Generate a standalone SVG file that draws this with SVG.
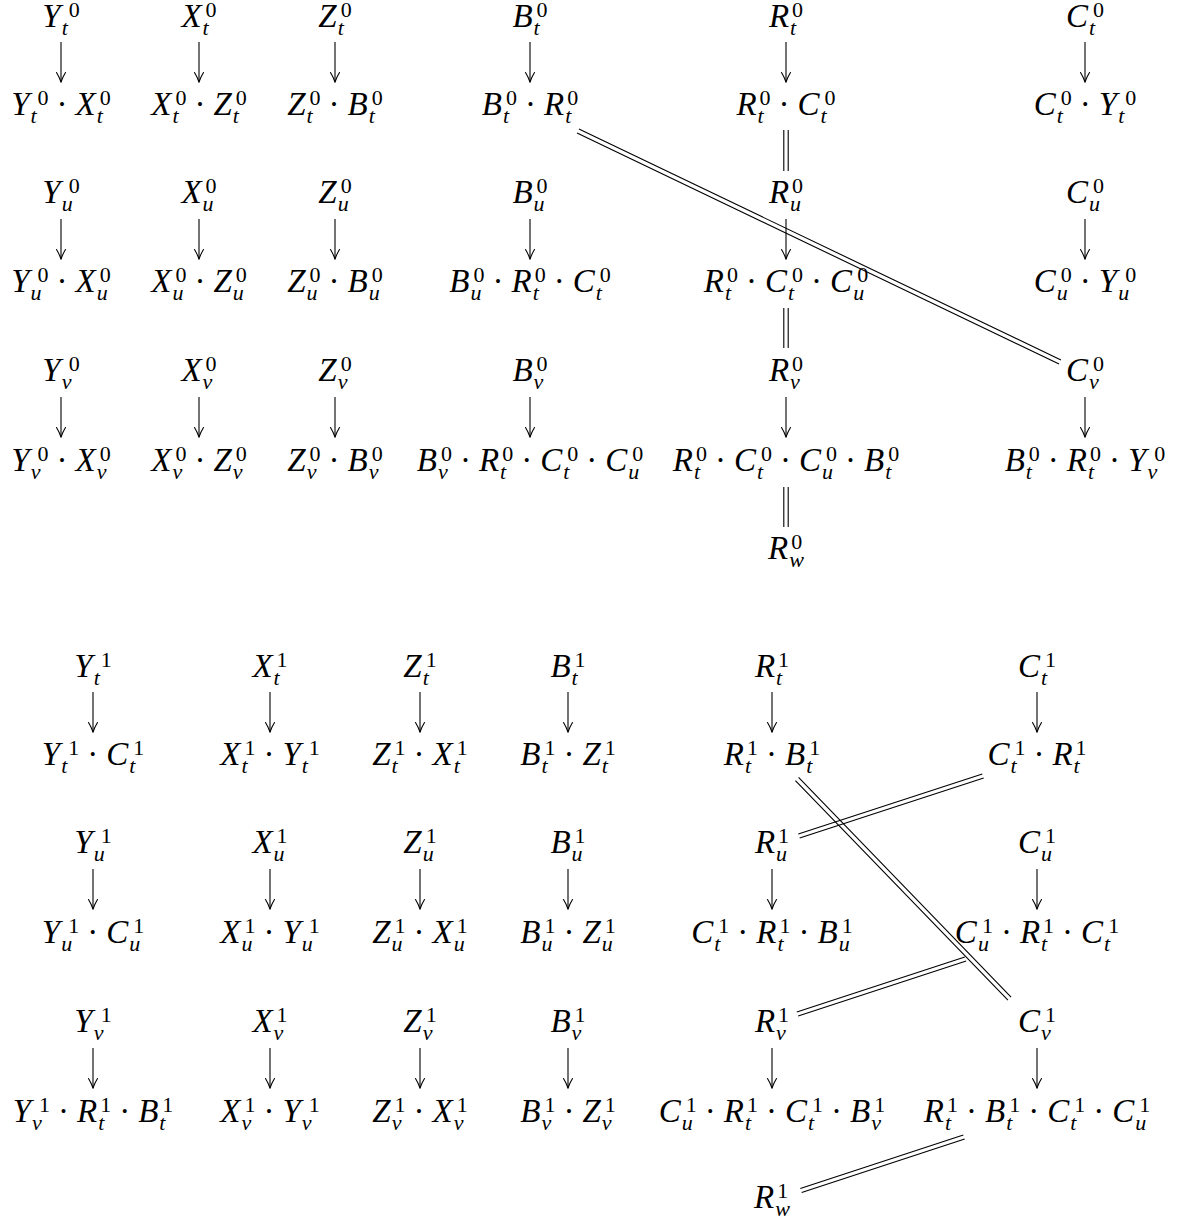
<svg xmlns="http://www.w3.org/2000/svg" width="1180" height="1225" viewBox="0 0 1180 1225">
<style>
.m{font-family:"Liberation Serif","Times New Roman",serif;font-size:33px;font-style:italic;fill:#000;text-anchor:middle}
.s{font-size:22px}
.n{font-style:normal}
.ar{stroke:#000;stroke-width:1.1;fill:none;marker-end:url(#ah)}
.dl{stroke:#000;stroke-width:1.1;fill:none}
</style>
<defs>
<marker id="ah" markerUnits="userSpaceOnUse" viewBox="-11 -6 12 12" refX="0" refY="0" markerWidth="12" markerHeight="12" orient="auto">
<path d="M-9.5,-4.5 C-6,-2.3 -2.2,-0.8 0,0 C-2.2,0.8 -6,2.3 -9.5,4.5" fill="none" stroke="#000" stroke-width="1.1" stroke-linecap="round"/>
</marker>
</defs>
<rect width="1180" height="1225" fill="#fff"/>
<g id="connectors">
<path class="ar" d="M61,42V82"/><path class="ar" d="M199,42V82"/><path class="ar" d="M335,42V82"/><path class="ar" d="M530,42V82"/><path class="ar" d="M786,42V82"/><path class="ar" d="M1085,42V82"/>
<path class="ar" d="M61,219V259"/><path class="ar" d="M199,219V259"/><path class="ar" d="M335,219V259"/><path class="ar" d="M530,219V259"/><path class="ar" d="M786,219V259"/><path class="ar" d="M1085,219V259"/>
<path class="ar" d="M61,397V437"/><path class="ar" d="M199,397V437"/><path class="ar" d="M335,397V437"/><path class="ar" d="M530,397V437"/><path class="ar" d="M786,397V437"/><path class="ar" d="M1085,397V437"/>
<path class="dl" d="M783.8,130V171M788.2,130V171M783.8,308V348M788.2,308V348M783.8,487V527M788.2,487V527"/>
<path class="dl" d="M577.05,132.98L1059.05,363.98M578.95,129.02L1060.95,360.02"/>
<path class="ar" d="M93,692V732"/><path class="ar" d="M270,692V732"/><path class="ar" d="M420,692V732"/><path class="ar" d="M568,692V732"/><path class="ar" d="M772,692V732"/><path class="ar" d="M1037,692V732"/>
<path class="ar" d="M93,869V909"/><path class="ar" d="M270,869V909"/><path class="ar" d="M420,869V909"/><path class="ar" d="M568,869V909"/><path class="ar" d="M772,869V909"/><path class="ar" d="M1037,869V909"/>
<path class="ar" d="M93,1048V1088"/><path class="ar" d="M270,1048V1088"/><path class="ar" d="M420,1048V1088"/><path class="ar" d="M568,1048V1088"/><path class="ar" d="M772,1048V1088"/><path class="ar" d="M1037,1048V1088"/>
<path class="dl" d="M795.42,780.53L1007.92,1000.23M798.58,777.47L1011.08,997.17"/>
<path class="dl" d="M983.68,778.09L799.68,838.09M982.32,773.91L798.32,833.91"/>
<path class="dl" d="M966.18,961.09L798.18,1016.09M964.82,956.91L796.82,1011.91"/>
<path class="dl" d="M964.69,1139.09L801.69,1192.59M963.31,1134.91L800.31,1188.41"/>
</g>
<!-- top section, row t -->
<g id="Yt0"><text class="m" x="61" y="27">Y<tspan class="s" dx="1" dy="8">t</tspan><tspan class="s n" dx="0.9" dy="-18">0</tspan></text></g>
<g id="Xt0"><text class="m" x="199" y="27">X<tspan class="s" dx="1" dy="8">t</tspan><tspan class="s n" dx="-3.1" dy="-18">0</tspan></text></g>
<g id="Zt0"><text class="m" x="335" y="27">Z<tspan class="s" dx="1" dy="8">t</tspan><tspan class="s n" dx="-3.1" dy="-18">0</tspan></text></g>
<g id="Bt0"><text class="m" x="530" y="27">B<tspan class="s" dx="1" dy="8">t</tspan><tspan class="s n" dx="-3.1" dy="-18">0</tspan></text></g>
<g id="Rt0"><text class="m" x="786" y="27">R<tspan class="s" dx="1" dy="8">t</tspan><tspan class="s n" dx="-4.1" dy="-18">0</tspan></text></g>
<g id="Ct0"><text class="m" x="1085" y="27">C<tspan class="s" dx="1" dy="8">t</tspan><tspan class="s n" dx="-2.1" dy="-18">0</tspan></text></g>
<g id="YtXt0"><text class="m" x="61" y="115">Y<tspan class="s" dx="1" dy="8">t</tspan><tspan class="s n" dx="0.9" dy="-18">0</tspan><tspan class="n" dx="8" dy="10">·</tspan><tspan dx="8">X</tspan><tspan class="s" dx="1" dy="8">t</tspan><tspan class="s n" dx="-3.1" dy="-18">0</tspan></text></g>
<g id="XtZt0"><text class="m" x="199" y="115">X<tspan class="s" dx="1" dy="8">t</tspan><tspan class="s n" dx="-3.1" dy="-18">0</tspan><tspan class="n" dx="8" dy="10">·</tspan><tspan dx="8">Z</tspan><tspan class="s" dx="1" dy="8">t</tspan><tspan class="s n" dx="-3.1" dy="-18">0</tspan></text></g>
<g id="ZtBt0"><text class="m" x="335" y="115">Z<tspan class="s" dx="1" dy="8">t</tspan><tspan class="s n" dx="-3.1" dy="-18">0</tspan><tspan class="n" dx="8" dy="10">·</tspan><tspan dx="8">B</tspan><tspan class="s" dx="1" dy="8">t</tspan><tspan class="s n" dx="-3.1" dy="-18">0</tspan></text></g>
<g id="BtRt0"><text class="m" x="530" y="115">B<tspan class="s" dx="1" dy="8">t</tspan><tspan class="s n" dx="-3.1" dy="-18">0</tspan><tspan class="n" dx="8" dy="10">·</tspan><tspan dx="8">R</tspan><tspan class="s" dx="1" dy="8">t</tspan><tspan class="s n" dx="-4.1" dy="-18">0</tspan></text></g>
<g id="RtCt0"><text class="m" x="786" y="115">R<tspan class="s" dx="1" dy="8">t</tspan><tspan class="s n" dx="-4.1" dy="-18">0</tspan><tspan class="n" dx="8" dy="10">·</tspan><tspan dx="8">C</tspan><tspan class="s" dx="1" dy="8">t</tspan><tspan class="s n" dx="-2.1" dy="-18">0</tspan></text></g>
<g id="CtYt0"><text class="m" x="1085" y="115">C<tspan class="s" dx="1" dy="8">t</tspan><tspan class="s n" dx="-2.1" dy="-18">0</tspan><tspan class="n" dx="8" dy="10">·</tspan><tspan dx="8">Y</tspan><tspan class="s" dx="1" dy="8">t</tspan><tspan class="s n" dx="0.9" dy="-18">0</tspan></text></g>
<!-- top section, row u -->
<g id="Yu0"><text class="m" x="61" y="203">Y<tspan class="s" dx="1" dy="8">u</tspan><tspan class="s n" dx="-4" dy="-18">0</tspan></text></g>
<g id="Xu0"><text class="m" x="199" y="203">X<tspan class="s" dx="1" dy="8">u</tspan><tspan class="s n" dx="-8" dy="-18">0</tspan></text></g>
<g id="Zu0"><text class="m" x="335" y="203">Z<tspan class="s" dx="1" dy="8">u</tspan><tspan class="s n" dx="-8" dy="-18">0</tspan></text></g>
<g id="Bu0"><text class="m" x="530" y="203">B<tspan class="s" dx="1" dy="8">u</tspan><tspan class="s n" dx="-8" dy="-18">0</tspan></text></g>
<g id="Ru0"><text class="m" x="786" y="203">R<tspan class="s" dx="1" dy="8">u</tspan><tspan class="s n" dx="-9" dy="-18">0</tspan></text></g>
<g id="Cu0"><text class="m" x="1085" y="203">C<tspan class="s" dx="1" dy="8">u</tspan><tspan class="s n" dx="-7" dy="-18">0</tspan></text></g>
<g id="YuXu0"><text class="m" x="61" y="292">Y<tspan class="s" dx="1" dy="8">u</tspan><tspan class="s n" dx="-4" dy="-18">0</tspan><tspan class="n" dx="8" dy="10">·</tspan><tspan dx="8">X</tspan><tspan class="s" dx="1" dy="8">u</tspan><tspan class="s n" dx="-8" dy="-18">0</tspan></text></g>
<g id="XuZu0"><text class="m" x="199" y="292">X<tspan class="s" dx="1" dy="8">u</tspan><tspan class="s n" dx="-8" dy="-18">0</tspan><tspan class="n" dx="8" dy="10">·</tspan><tspan dx="8">Z</tspan><tspan class="s" dx="1" dy="8">u</tspan><tspan class="s n" dx="-8" dy="-18">0</tspan></text></g>
<g id="ZuBu0"><text class="m" x="335" y="292">Z<tspan class="s" dx="1" dy="8">u</tspan><tspan class="s n" dx="-8" dy="-18">0</tspan><tspan class="n" dx="8" dy="10">·</tspan><tspan dx="8">B</tspan><tspan class="s" dx="1" dy="8">u</tspan><tspan class="s n" dx="-8" dy="-18">0</tspan></text></g>
<g id="BuRtCt0"><text class="m" x="530" y="292">B<tspan class="s" dx="1" dy="8">u</tspan><tspan class="s n" dx="-8" dy="-18">0</tspan><tspan class="n" dx="8" dy="10">·</tspan><tspan dx="8">R</tspan><tspan class="s" dx="1" dy="8">t</tspan><tspan class="s n" dx="-4.1" dy="-18">0</tspan><tspan class="n" dx="8" dy="10">·</tspan><tspan dx="8">C</tspan><tspan class="s" dx="1" dy="8">t</tspan><tspan class="s n" dx="-2.1" dy="-18">0</tspan></text></g>
<g id="RtCtCu0"><text class="m" x="786" y="292">R<tspan class="s" dx="1" dy="8">t</tspan><tspan class="s n" dx="-4.1" dy="-18">0</tspan><tspan class="n" dx="8" dy="10">·</tspan><tspan dx="8">C</tspan><tspan class="s" dx="1" dy="8">t</tspan><tspan class="s n" dx="-2.1" dy="-18">0</tspan><tspan class="n" dx="8" dy="10">·</tspan><tspan dx="8">C</tspan><tspan class="s" dx="1" dy="8">u</tspan><tspan class="s n" dx="-7" dy="-18">0</tspan></text></g>
<g id="CuYu0"><text class="m" x="1085" y="292">C<tspan class="s" dx="1" dy="8">u</tspan><tspan class="s n" dx="-7" dy="-18">0</tspan><tspan class="n" dx="8" dy="10">·</tspan><tspan dx="8">Y</tspan><tspan class="s" dx="1" dy="8">u</tspan><tspan class="s n" dx="-4" dy="-18">0</tspan></text></g>
<!-- top section, row v -->
<g id="Yv0"><text class="m" x="61" y="381">Y<tspan class="s" dx="1" dy="8">v</tspan><tspan class="s n" dx="-2.8" dy="-18">0</tspan></text></g>
<g id="Xv0"><text class="m" x="199" y="381">X<tspan class="s" dx="1" dy="8">v</tspan><tspan class="s n" dx="-6.8" dy="-18">0</tspan></text></g>
<g id="Zv0"><text class="m" x="335" y="381">Z<tspan class="s" dx="1" dy="8">v</tspan><tspan class="s n" dx="-6.8" dy="-18">0</tspan></text></g>
<g id="Bv0"><text class="m" x="530" y="381">B<tspan class="s" dx="1" dy="8">v</tspan><tspan class="s n" dx="-6.8" dy="-18">0</tspan></text></g>
<g id="Rv0"><text class="m" x="786" y="381">R<tspan class="s" dx="1" dy="8">v</tspan><tspan class="s n" dx="-7.8" dy="-18">0</tspan></text></g>
<g id="Cv0"><text class="m" x="1085" y="381">C<tspan class="s" dx="1" dy="8">v</tspan><tspan class="s n" dx="-5.8" dy="-18">0</tspan></text></g>
<g id="YvXv0"><text class="m" x="61" y="471">Y<tspan class="s" dx="1" dy="8">v</tspan><tspan class="s n" dx="-2.8" dy="-18">0</tspan><tspan class="n" dx="8" dy="10">·</tspan><tspan dx="8">X</tspan><tspan class="s" dx="1" dy="8">v</tspan><tspan class="s n" dx="-6.8" dy="-18">0</tspan></text></g>
<g id="XvZv0"><text class="m" x="199" y="471">X<tspan class="s" dx="1" dy="8">v</tspan><tspan class="s n" dx="-6.8" dy="-18">0</tspan><tspan class="n" dx="8" dy="10">·</tspan><tspan dx="8">Z</tspan><tspan class="s" dx="1" dy="8">v</tspan><tspan class="s n" dx="-6.8" dy="-18">0</tspan></text></g>
<g id="ZvBv0"><text class="m" x="335" y="471">Z<tspan class="s" dx="1" dy="8">v</tspan><tspan class="s n" dx="-6.8" dy="-18">0</tspan><tspan class="n" dx="8" dy="10">·</tspan><tspan dx="8">B</tspan><tspan class="s" dx="1" dy="8">v</tspan><tspan class="s n" dx="-6.8" dy="-18">0</tspan></text></g>
<g id="BvRtCtCu0"><text class="m" x="530" y="471">B<tspan class="s" dx="1" dy="8">v</tspan><tspan class="s n" dx="-6.8" dy="-18">0</tspan><tspan class="n" dx="8" dy="10">·</tspan><tspan dx="8">R</tspan><tspan class="s" dx="1" dy="8">t</tspan><tspan class="s n" dx="-4.1" dy="-18">0</tspan><tspan class="n" dx="8" dy="10">·</tspan><tspan dx="8">C</tspan><tspan class="s" dx="1" dy="8">t</tspan><tspan class="s n" dx="-2.1" dy="-18">0</tspan><tspan class="n" dx="8" dy="10">·</tspan><tspan dx="8">C</tspan><tspan class="s" dx="1" dy="8">u</tspan><tspan class="s n" dx="-7" dy="-18">0</tspan></text></g>
<g id="RtCtCuBt0"><text class="m" x="786" y="471">R<tspan class="s" dx="1" dy="8">t</tspan><tspan class="s n" dx="-4.1" dy="-18">0</tspan><tspan class="n" dx="8" dy="10">·</tspan><tspan dx="8">C</tspan><tspan class="s" dx="1" dy="8">t</tspan><tspan class="s n" dx="-2.1" dy="-18">0</tspan><tspan class="n" dx="8" dy="10">·</tspan><tspan dx="8">C</tspan><tspan class="s" dx="1" dy="8">u</tspan><tspan class="s n" dx="-7" dy="-18">0</tspan><tspan class="n" dx="8" dy="10">·</tspan><tspan dx="8">B</tspan><tspan class="s" dx="1" dy="8">t</tspan><tspan class="s n" dx="-3.1" dy="-18">0</tspan></text></g>
<g id="BtRtYv0"><text class="m" x="1085" y="471">B<tspan class="s" dx="1" dy="8">t</tspan><tspan class="s n" dx="-3.1" dy="-18">0</tspan><tspan class="n" dx="8" dy="10">·</tspan><tspan dx="8">R</tspan><tspan class="s" dx="1" dy="8">t</tspan><tspan class="s n" dx="-4.1" dy="-18">0</tspan><tspan class="n" dx="8" dy="10">·</tspan><tspan dx="8">Y</tspan><tspan class="s" dx="1" dy="8">v</tspan><tspan class="s n" dx="-2.8" dy="-18">0</tspan></text></g>
<g id="Rw0"><text class="m" x="786" y="559">R<tspan class="s" dx="1" dy="8">w</tspan><tspan class="s n" dx="-12.7" dy="-18">0</tspan></text></g>
<!-- bottom section, row t -->
<g id="Yt1"><text class="m" x="93" y="677">Y<tspan class="s" dx="1" dy="8">t</tspan><tspan class="s n" dx="0.9" dy="-18">1</tspan></text></g>
<g id="Xt1"><text class="m" x="270" y="677">X<tspan class="s" dx="1" dy="8">t</tspan><tspan class="s n" dx="-3.1" dy="-18">1</tspan></text></g>
<g id="Zt1"><text class="m" x="420" y="677">Z<tspan class="s" dx="1" dy="8">t</tspan><tspan class="s n" dx="-3.1" dy="-18">1</tspan></text></g>
<g id="Bt1"><text class="m" x="568" y="677">B<tspan class="s" dx="1" dy="8">t</tspan><tspan class="s n" dx="-3.1" dy="-18">1</tspan></text></g>
<g id="Rt1"><text class="m" x="772" y="677">R<tspan class="s" dx="1" dy="8">t</tspan><tspan class="s n" dx="-4.1" dy="-18">1</tspan></text></g>
<g id="Ct1"><text class="m" x="1037" y="677">C<tspan class="s" dx="1" dy="8">t</tspan><tspan class="s n" dx="-2.1" dy="-18">1</tspan></text></g>
<g id="YtCt1"><text class="m" x="93" y="765">Y<tspan class="s" dx="1" dy="8">t</tspan><tspan class="s n" dx="0.9" dy="-18">1</tspan><tspan class="n" dx="8" dy="10">·</tspan><tspan dx="8">C</tspan><tspan class="s" dx="1" dy="8">t</tspan><tspan class="s n" dx="-2.1" dy="-18">1</tspan></text></g>
<g id="XtYt1"><text class="m" x="270" y="765">X<tspan class="s" dx="1" dy="8">t</tspan><tspan class="s n" dx="-3.1" dy="-18">1</tspan><tspan class="n" dx="8" dy="10">·</tspan><tspan dx="8">Y</tspan><tspan class="s" dx="1" dy="8">t</tspan><tspan class="s n" dx="0.9" dy="-18">1</tspan></text></g>
<g id="ZtXt1"><text class="m" x="420" y="765">Z<tspan class="s" dx="1" dy="8">t</tspan><tspan class="s n" dx="-3.1" dy="-18">1</tspan><tspan class="n" dx="8" dy="10">·</tspan><tspan dx="8">X</tspan><tspan class="s" dx="1" dy="8">t</tspan><tspan class="s n" dx="-3.1" dy="-18">1</tspan></text></g>
<g id="BtZt1"><text class="m" x="568" y="765">B<tspan class="s" dx="1" dy="8">t</tspan><tspan class="s n" dx="-3.1" dy="-18">1</tspan><tspan class="n" dx="8" dy="10">·</tspan><tspan dx="8">Z</tspan><tspan class="s" dx="1" dy="8">t</tspan><tspan class="s n" dx="-3.1" dy="-18">1</tspan></text></g>
<g id="RtBt1"><text class="m" x="772" y="765">R<tspan class="s" dx="1" dy="8">t</tspan><tspan class="s n" dx="-4.1" dy="-18">1</tspan><tspan class="n" dx="8" dy="10">·</tspan><tspan dx="8">B</tspan><tspan class="s" dx="1" dy="8">t</tspan><tspan class="s n" dx="-3.1" dy="-18">1</tspan></text></g>
<g id="CtRt1"><text class="m" x="1037" y="765">C<tspan class="s" dx="1" dy="8">t</tspan><tspan class="s n" dx="-2.1" dy="-18">1</tspan><tspan class="n" dx="8" dy="10">·</tspan><tspan dx="8">R</tspan><tspan class="s" dx="1" dy="8">t</tspan><tspan class="s n" dx="-4.1" dy="-18">1</tspan></text></g>
<!-- bottom section, row u -->
<g id="Yu1"><text class="m" x="93" y="853">Y<tspan class="s" dx="1" dy="8">u</tspan><tspan class="s n" dx="-4" dy="-18">1</tspan></text></g>
<g id="Xu1"><text class="m" x="270" y="853">X<tspan class="s" dx="1" dy="8">u</tspan><tspan class="s n" dx="-8" dy="-18">1</tspan></text></g>
<g id="Zu1"><text class="m" x="420" y="853">Z<tspan class="s" dx="1" dy="8">u</tspan><tspan class="s n" dx="-8" dy="-18">1</tspan></text></g>
<g id="Bu1"><text class="m" x="568" y="853">B<tspan class="s" dx="1" dy="8">u</tspan><tspan class="s n" dx="-8" dy="-18">1</tspan></text></g>
<g id="Ru1"><text class="m" x="772" y="853">R<tspan class="s" dx="1" dy="8">u</tspan><tspan class="s n" dx="-9" dy="-18">1</tspan></text></g>
<g id="Cu1"><text class="m" x="1037" y="853">C<tspan class="s" dx="1" dy="8">u</tspan><tspan class="s n" dx="-7" dy="-18">1</tspan></text></g>
<g id="YuCu1"><text class="m" x="93" y="943">Y<tspan class="s" dx="1" dy="8">u</tspan><tspan class="s n" dx="-4" dy="-18">1</tspan><tspan class="n" dx="8" dy="10">·</tspan><tspan dx="8">C</tspan><tspan class="s" dx="1" dy="8">u</tspan><tspan class="s n" dx="-7" dy="-18">1</tspan></text></g>
<g id="XuYu1"><text class="m" x="270" y="943">X<tspan class="s" dx="1" dy="8">u</tspan><tspan class="s n" dx="-8" dy="-18">1</tspan><tspan class="n" dx="8" dy="10">·</tspan><tspan dx="8">Y</tspan><tspan class="s" dx="1" dy="8">u</tspan><tspan class="s n" dx="-4" dy="-18">1</tspan></text></g>
<g id="ZuXu1"><text class="m" x="420" y="943">Z<tspan class="s" dx="1" dy="8">u</tspan><tspan class="s n" dx="-8" dy="-18">1</tspan><tspan class="n" dx="8" dy="10">·</tspan><tspan dx="8">X</tspan><tspan class="s" dx="1" dy="8">u</tspan><tspan class="s n" dx="-8" dy="-18">1</tspan></text></g>
<g id="BuZu1"><text class="m" x="568" y="943">B<tspan class="s" dx="1" dy="8">u</tspan><tspan class="s n" dx="-8" dy="-18">1</tspan><tspan class="n" dx="8" dy="10">·</tspan><tspan dx="8">Z</tspan><tspan class="s" dx="1" dy="8">u</tspan><tspan class="s n" dx="-8" dy="-18">1</tspan></text></g>
<g id="CtRtBu1"><text class="m" x="772" y="943">C<tspan class="s" dx="1" dy="8">t</tspan><tspan class="s n" dx="-2.1" dy="-18">1</tspan><tspan class="n" dx="8" dy="10">·</tspan><tspan dx="8">R</tspan><tspan class="s" dx="1" dy="8">t</tspan><tspan class="s n" dx="-4.1" dy="-18">1</tspan><tspan class="n" dx="8" dy="10">·</tspan><tspan dx="8">B</tspan><tspan class="s" dx="1" dy="8">u</tspan><tspan class="s n" dx="-8" dy="-18">1</tspan></text></g>
<g id="CuRtCt1"><text class="m" x="1037" y="943">C<tspan class="s" dx="1" dy="8">u</tspan><tspan class="s n" dx="-7" dy="-18">1</tspan><tspan class="n" dx="8" dy="10">·</tspan><tspan dx="8">R</tspan><tspan class="s" dx="1" dy="8">t</tspan><tspan class="s n" dx="-4.1" dy="-18">1</tspan><tspan class="n" dx="8" dy="10">·</tspan><tspan dx="8">C</tspan><tspan class="s" dx="1" dy="8">t</tspan><tspan class="s n" dx="-2.1" dy="-18">1</tspan></text></g>
<!-- bottom section, row v -->
<g id="Yv1"><text class="m" x="93" y="1032">Y<tspan class="s" dx="1" dy="8">v</tspan><tspan class="s n" dx="-2.8" dy="-18">1</tspan></text></g>
<g id="Xv1"><text class="m" x="270" y="1032">X<tspan class="s" dx="1" dy="8">v</tspan><tspan class="s n" dx="-6.8" dy="-18">1</tspan></text></g>
<g id="Zv1"><text class="m" x="420" y="1032">Z<tspan class="s" dx="1" dy="8">v</tspan><tspan class="s n" dx="-6.8" dy="-18">1</tspan></text></g>
<g id="Bv1"><text class="m" x="568" y="1032">B<tspan class="s" dx="1" dy="8">v</tspan><tspan class="s n" dx="-6.8" dy="-18">1</tspan></text></g>
<g id="Rv1"><text class="m" x="772" y="1032">R<tspan class="s" dx="1" dy="8">v</tspan><tspan class="s n" dx="-7.8" dy="-18">1</tspan></text></g>
<g id="Cv1"><text class="m" x="1037" y="1032">C<tspan class="s" dx="1" dy="8">v</tspan><tspan class="s n" dx="-5.8" dy="-18">1</tspan></text></g>
<g id="YvRtBt1"><text class="m" x="93" y="1122">Y<tspan class="s" dx="1" dy="8">v</tspan><tspan class="s n" dx="-2.8" dy="-18">1</tspan><tspan class="n" dx="8" dy="10">·</tspan><tspan dx="8">R</tspan><tspan class="s" dx="1" dy="8">t</tspan><tspan class="s n" dx="-4.1" dy="-18">1</tspan><tspan class="n" dx="8" dy="10">·</tspan><tspan dx="8">B</tspan><tspan class="s" dx="1" dy="8">t</tspan><tspan class="s n" dx="-3.1" dy="-18">1</tspan></text></g>
<g id="XvYv1"><text class="m" x="270" y="1122">X<tspan class="s" dx="1" dy="8">v</tspan><tspan class="s n" dx="-6.8" dy="-18">1</tspan><tspan class="n" dx="8" dy="10">·</tspan><tspan dx="8">Y</tspan><tspan class="s" dx="1" dy="8">v</tspan><tspan class="s n" dx="-2.8" dy="-18">1</tspan></text></g>
<g id="ZvXv1"><text class="m" x="420" y="1122">Z<tspan class="s" dx="1" dy="8">v</tspan><tspan class="s n" dx="-6.8" dy="-18">1</tspan><tspan class="n" dx="8" dy="10">·</tspan><tspan dx="8">X</tspan><tspan class="s" dx="1" dy="8">v</tspan><tspan class="s n" dx="-6.8" dy="-18">1</tspan></text></g>
<g id="BvZv1"><text class="m" x="568" y="1122">B<tspan class="s" dx="1" dy="8">v</tspan><tspan class="s n" dx="-6.8" dy="-18">1</tspan><tspan class="n" dx="8" dy="10">·</tspan><tspan dx="8">Z</tspan><tspan class="s" dx="1" dy="8">v</tspan><tspan class="s n" dx="-6.8" dy="-18">1</tspan></text></g>
<g id="CuRtCtBv1"><text class="m" x="772" y="1122">C<tspan class="s" dx="1" dy="8">u</tspan><tspan class="s n" dx="-7" dy="-18">1</tspan><tspan class="n" dx="8" dy="10">·</tspan><tspan dx="8">R</tspan><tspan class="s" dx="1" dy="8">t</tspan><tspan class="s n" dx="-4.1" dy="-18">1</tspan><tspan class="n" dx="8" dy="10">·</tspan><tspan dx="8">C</tspan><tspan class="s" dx="1" dy="8">t</tspan><tspan class="s n" dx="-2.1" dy="-18">1</tspan><tspan class="n" dx="8" dy="10">·</tspan><tspan dx="8">B</tspan><tspan class="s" dx="1" dy="8">v</tspan><tspan class="s n" dx="-6.8" dy="-18">1</tspan></text></g>
<g id="RtBtCtCu1"><text class="m" x="1037" y="1122">R<tspan class="s" dx="1" dy="8">t</tspan><tspan class="s n" dx="-4.1" dy="-18">1</tspan><tspan class="n" dx="8" dy="10">·</tspan><tspan dx="8">B</tspan><tspan class="s" dx="1" dy="8">t</tspan><tspan class="s n" dx="-3.1" dy="-18">1</tspan><tspan class="n" dx="8" dy="10">·</tspan><tspan dx="8">C</tspan><tspan class="s" dx="1" dy="8">t</tspan><tspan class="s n" dx="-2.1" dy="-18">1</tspan><tspan class="n" dx="8" dy="10">·</tspan><tspan dx="8">C</tspan><tspan class="s" dx="1" dy="8">u</tspan><tspan class="s n" dx="-7" dy="-18">1</tspan></text></g>
<g id="Rw1"><text class="m" x="772" y="1208">R<tspan class="s" dx="1" dy="8">w</tspan><tspan class="s n" dx="-12.7" dy="-18">1</tspan></text></g>
</svg>
